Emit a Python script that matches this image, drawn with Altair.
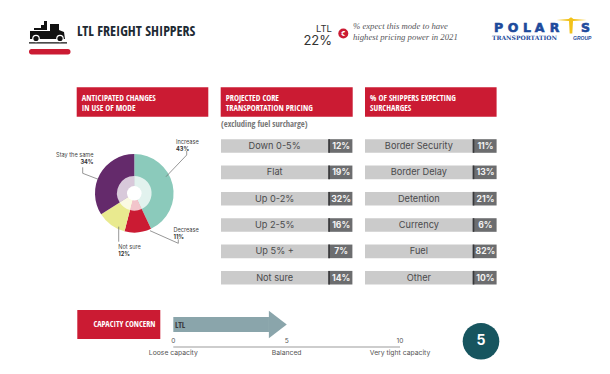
import altair as alt
import pandas as pd

# ---- data ----
MODE_LABELS = ["Increase", "Decrease", "Not sure", "Stay the same"]
MODE_VALUES = [43, 11, 12, 34]
PRICING_LABELS = ["Down 0-5%", "Flat", "Up 0-2%", "Up 2-5%", "Up 5% +", "Not sure"]
PRICING_VALUES = [12, 19, 32, 16, 7, 14]
SURCHARGE_LABELS = ["Border Security", "Border Delay", "Detention", "Currency", "Fuel", "Other"]
SURCHARGE_VALUES = [11, 13, 21, 6, 82, 10]
CAPACITY_TICKS = [0, 5, 10]
CAPACITY_TICK_LABELS = ["Loose capacity", "Balanced", "Very tight capacity"]
CAPACITY_VALUE = 5

# ---- style ----
RED = "#cb1b33"
PIE_COLORS = ["#8bcabb", "#cb1b33", "#e9ea8f", "#642a6b"]
BODY = "Inter"
NARROW = "Open Sans Condensed"
SERIF = "Liberation Serif"
DARK = "#1d2a33"
GREY = "#55565a"
O = 8  # page margin


def X(v):
    return v - O


one = pd.DataFrame({"k": [0]})


def txt(s, x, y, size, color=GREY, font=BODY, weight="normal", align="left", style="normal", **kw):
    return alt.Chart(pd.DataFrame({"t": [s]})).mark_text(
        font=font, fontSize=size, fontWeight=weight, fontStyle=style, color=color,
        align=align, baseline="middle", **kw
    ).encode(x=alt.value(X(x)), y=alt.value(X(y)), text="t:N")


def box(x0, x1, y0, y1, color, **kw):
    return alt.Chart(one).mark_rect(color=color, **kw).encode(
        x=alt.value(X(x0)), x2=alt.value(X(x1)), y=alt.value(X(y0)), y2=alt.value(X(y1)))


def seg(x0, y0, x1, y1, color="#6a6a6a", w=0.7):
    return alt.Chart(one).mark_rule(color=color, strokeWidth=w).encode(
        x=alt.value(X(x0)), y=alt.value(X(y0)), x2=alt.value(X(x1)), y2=alt.value(X(y1)))


def glyph(path_pts, cx, cy, half, color):
    """closed polygons given in page pixels, normalised to a custom symbol"""
    d = ""
    for pts in path_pts:
        d += "M" + "L".join(f"{(a-cx)/half:.4f},{(b-cy)/half:.4f}" for a, b in pts) + "Z"
    return alt.Chart(one).mark_point(shape=d, filled=True, color=color, opacity=1, size=(2 * half) ** 2, strokeWidth=0).encode(
        x=alt.value(X(cx)), y=alt.value(X(cy)))


def dot(cx, cy, r, color):
    return alt.Chart(one).mark_point(shape="circle", filled=True, color=color, opacity=1, size=(2 * r) ** 2, strokeWidth=0).encode(
        x=alt.value(X(cx)), y=alt.value(X(cy)))


layers = []

# ---- header ----
truck = [
    [(30, 31), (50, 31), (50, 24), (59, 24), (59, 30), (64, 32), (65, 39), (30, 39)],
    [(41, 25), (44, 25), (44, 21), (47, 21), (47, 30), (41, 30)],
    [(34, 28), (41, 28), (41, 30), (34, 30)],
    [(29, 42.2), (67, 42.2), (67, 43.4), (29, 43.4)],
]
layers.append(glyph(truck, 48, 32, 19, "#111111"))
for wx in (36, 60):
    layers.append(dot(wx, 38.5, 3.8, "#ffffff"))
    layers.append(dot(wx, 38.5, 2.6, "#111111"))
layers.append(alt.Chart(one).mark_rect(color=RED, cornerRadius=2.5).encode(
    x=alt.value(X(29)), x2=alt.value(X(70.5)), y=alt.value(X(49)), y2=alt.value(X(54.5))))
layers.append(txt("LTL FREIGHT SHIPPERS", 77, 32, 14, DARK, NARROW, "bold"))

layers.append(txt("LTL", 332, 28.5, 9.5, "#333333", BODY, align="right"))
layers.append(txt("22%", 332, 41, 13, "#333333", BODY, align="right"))
layers.append(dot(343.3, 33.5, 5, RED))
layers.append(txt("€", 343.3, 33.7, 6.5, "#ffffff", BODY, "bold", "center"))
layers.append(txt("% expect this mode to have", 353, 26, 8.7, GREY, SERIF, style="italic"))
layers.append(txt("highest pricing power in 2021", 353, 36.5, 8.7, GREY, SERIF, style="italic"))

# logo
LOGO_BLUE = "#1d4a9c"
star = [
    [(556.7, 20), (568.5, 19), (571, 17.3), (573.5, 19), (586.7, 20), (573, 21), (572.3, 33.5), (569.7, 33.5), (569, 21)],
]
layers.append(glyph(star, 571, 25, 16, "#f2c21a"))
for ch, lx in zip("POLAR", (498.5, 513, 527, 539.5, 554.5)):
    layers.append(txt(ch, lx, 27.5, 12.5, LOGO_BLUE, "DejaVu Sans", "bold", "center", stroke=LOGO_BLUE, strokeWidth=0.6))
layers.append(txt("S", 585.5, 27.5, 12.5, LOGO_BLUE, "DejaVu Sans", "bold", "center", stroke=LOGO_BLUE, strokeWidth=0.6))
layers.append(txt("TRANSPORTATION", 492, 38, 6, LOGO_BLUE, "DejaVu Serif", "bold"))
layers.append(txt("GROUP", 573, 38, 5, LOGO_BLUE, "Liberation Sans", "bold", style="italic"))

# ---- section headers ----
for x0, x1, lines in [
    (76.7, 208.3, ["ANTICIPATED CHANGES", "IN USE OF MODE"]),
    (220.7, 352.7, ["PROJECTED CORE", "TRANSPORTATION PRICING"]),
    (365, 496.6, ["% OF SHIPPERS EXPECTING", "SURCHARGES"]),
]:
    layers.append(box(x0, x1, 87.3, 116.7, RED))
    layers.append(txt(lines[0], x0 + 5, 97.5, 8.4, "#ffffff", NARROW, "bold"))
    layers.append(txt(lines[1], x0 + 5, 107.5, 8.4, "#ffffff", NARROW, "bold"))
layers.append(txt("(excluding fuel surcharge)", 221, 123.5, 8.5, "#777777", NARROW, 300))

# ---- pie ----
pie = pd.DataFrame({"label": MODE_LABELS, "value": MODE_VALUES, "order": range(len(MODE_LABELS))})
theta = alt.Theta("value:Q", stack=True, scale=alt.Scale(domain=[0, sum(MODE_VALUES)]))
color = alt.Color("label:N", scale=alt.Scale(domain=MODE_LABELS, range=PIE_COLORS), legend=None)
PCX, PCY = X(134.3), X(193.3)
layers.append(alt.Chart(pie).mark_arc(outerRadius=39.3, innerRadius=0).encode(
    theta=theta, color=color, order=alt.Order("order:Q"), x=alt.value(PCX), y=alt.value(PCY)))
layers.append(alt.Chart(pie).mark_arc(outerRadius=17.3, innerRadius=0, fill="#ffffff", fillOpacity=0.75).encode(
    theta=theta, order=alt.Order("order:Q"), x=alt.value(PCX), y=alt.value(PCY)))
layers.append(dot(134.3, 193.3, 7.3, "#ffffff"))

layers += [
    seg(166, 176.7, 186.7, 155), seg(186.7, 155, 186.7, 151),
    seg(98.3, 179.3, 82.7, 173.3), seg(82.7, 173.3, 82.7, 167.3),
    seg(150, 230.7, 178.3, 243.3), seg(178.3, 243.3, 178.3, 239.3),
    seg(118.7, 226.7, 118.7, 241.7),
]
small = 5.6
for name, val, x, y, al in [
    ("Increase", 43, 176, 142, "left"),
    ("Stay the same", 34, 93.5, 155, "right"),
    ("Decrease", 11, 173.5, 230, "left"),
    ("Not sure", 12, 118.3, 247, "left"),
]:
    layers.append(txt(name, x, y, small, "#444444", BODY, align=al))
    layers.append(txt(f"{val}%", x, y + 6.6, small, "#333333", BODY, "bold", al))

# ---- row panels ----
row_scale = alt.Scale(type="point", domain=list(range(6)), range=[X(146), X(277.7)], padding=0)
for labels, values, x0, xs, x1 in [
    (PRICING_LABELS, PRICING_VALUES, 221, 328.3, 352.4),
    (SURCHARGE_LABELS, SURCHARGE_VALUES, 365, 472.7, 496.6),
]:
    df = pd.DataFrame({"row": range(6), "label": labels, "value": [f"{v}%" for v in values]})
    y = alt.Y("row:O", scale=row_scale, axis=None)
    base = alt.Chart(df)
    layers.append(base.mark_rule(color="#cbcbcb", strokeWidth=13.6).encode(y=y, x=alt.value(X(x0)), x2=alt.value(X(xs))))
    layers.append(base.mark_rule(color="#6c6d6f", strokeWidth=13.6).encode(y=y, x=alt.value(X(xs)), x2=alt.value(X(x1))))
    layers.append(base.mark_rule(color="#38383a", strokeWidth=13.6).encode(y=y, x=alt.value(X(xs)), x2=alt.value(X(xs + 1.6))))
    layers.append(base.mark_text(font=BODY, fontSize=9.2, color="#4a4a4c", align="center", baseline="middle").encode(
        y=y, x=alt.value(X((x0 + xs) / 2)), text="label:N"))
    layers.append(base.mark_text(font=BODY, fontSize=8.6, fontWeight="bold", color="#f2f2f2", align="center", baseline="middle").encode(
        y=y, x=alt.value(X((xs + 1.6 + x1) / 2)), text="value:N"))

# ---- capacity ----
layers.append(box(77.3, 160.3, 310, 339, RED))
layers.append(txt("CAPACITY CONCERN", 155.5, 324.7, 8.2, "#ffffff", NARROW, "bold", "right"))
cap_x = alt.Scale(domain=[0, 10], range=[X(173.3), X(400)])
HEAD = 0.78  # arrow head length in axis units
arrow = pd.DataFrame({"a": [0], "b": [CAPACITY_VALUE - HEAD], "c": [CAPACITY_VALUE - HEAD / 2]})
layers.append(alt.Chart(arrow).mark_rect(color="#8aa5ab").encode(
    x=alt.X("a:Q", scale=cap_x, axis=None), x2="b:Q", y=alt.value(X(317)), y2=alt.value(X(332))))
layers.append(alt.Chart(arrow).mark_point(
    shape="M-0.65,-1L0.65,0L-0.65,1Z", filled=True, color="#8aa5ab", opacity=1, size=27.5 ** 2, strokeWidth=0
).encode(x=alt.X("c:Q", scale=cap_x, axis=None), y=alt.value(X(324.5))))
layers.append(txt("LTL", 175, 324.5, 8.5, "#3a3a3c", NARROW))

ticks = pd.DataFrame({"v": CAPACITY_TICKS, "label": CAPACITY_TICK_LABELS})
tx = alt.X("v:Q", scale=cap_x, axis=None)
axis_df = pd.DataFrame({"a": [min(CAPACITY_TICKS)], "b": [max(CAPACITY_TICKS)]})
layers.append(alt.Chart(axis_df).mark_rule(color="#bdbdbd", strokeWidth=1.5).encode(
    x=alt.X("a:Q", scale=cap_x, axis=None), x2="b:Q", y=alt.value(X(347))))
layers.append(alt.Chart(ticks).mark_text(font=BODY, fontSize=6.6, color="#555555", baseline="middle").encode(
    x=tx, y=alt.value(X(341)), text="v:Q"))
layers.append(alt.Chart(ticks).mark_text(font=BODY, fontSize=6.8, color="#555555", baseline="middle").encode(
    x=tx, y=alt.value(X(353)), text="label:N"))

layers.append(dot(481, 341.3, 18.3, "#17555f"))
layers.append(alt.Chart(pd.DataFrame({"v": [CAPACITY_VALUE]})).mark_text(
    font=BODY, fontSize=14, fontWeight="bold", color="#ffffff", align="center", baseline="middle"
).encode(x=alt.value(X(481)), y=alt.value(X(341)), text="v:Q"))

chart = alt.layer(*layers).properties(
    width=594, height=358, padding=0, autosize=alt.AutoSizeParams(type="none"), background="#ffffff",
).configure_view(stroke=None)

chart.save("out.html", embed_options={"renderer": "svg", "actions": False})
